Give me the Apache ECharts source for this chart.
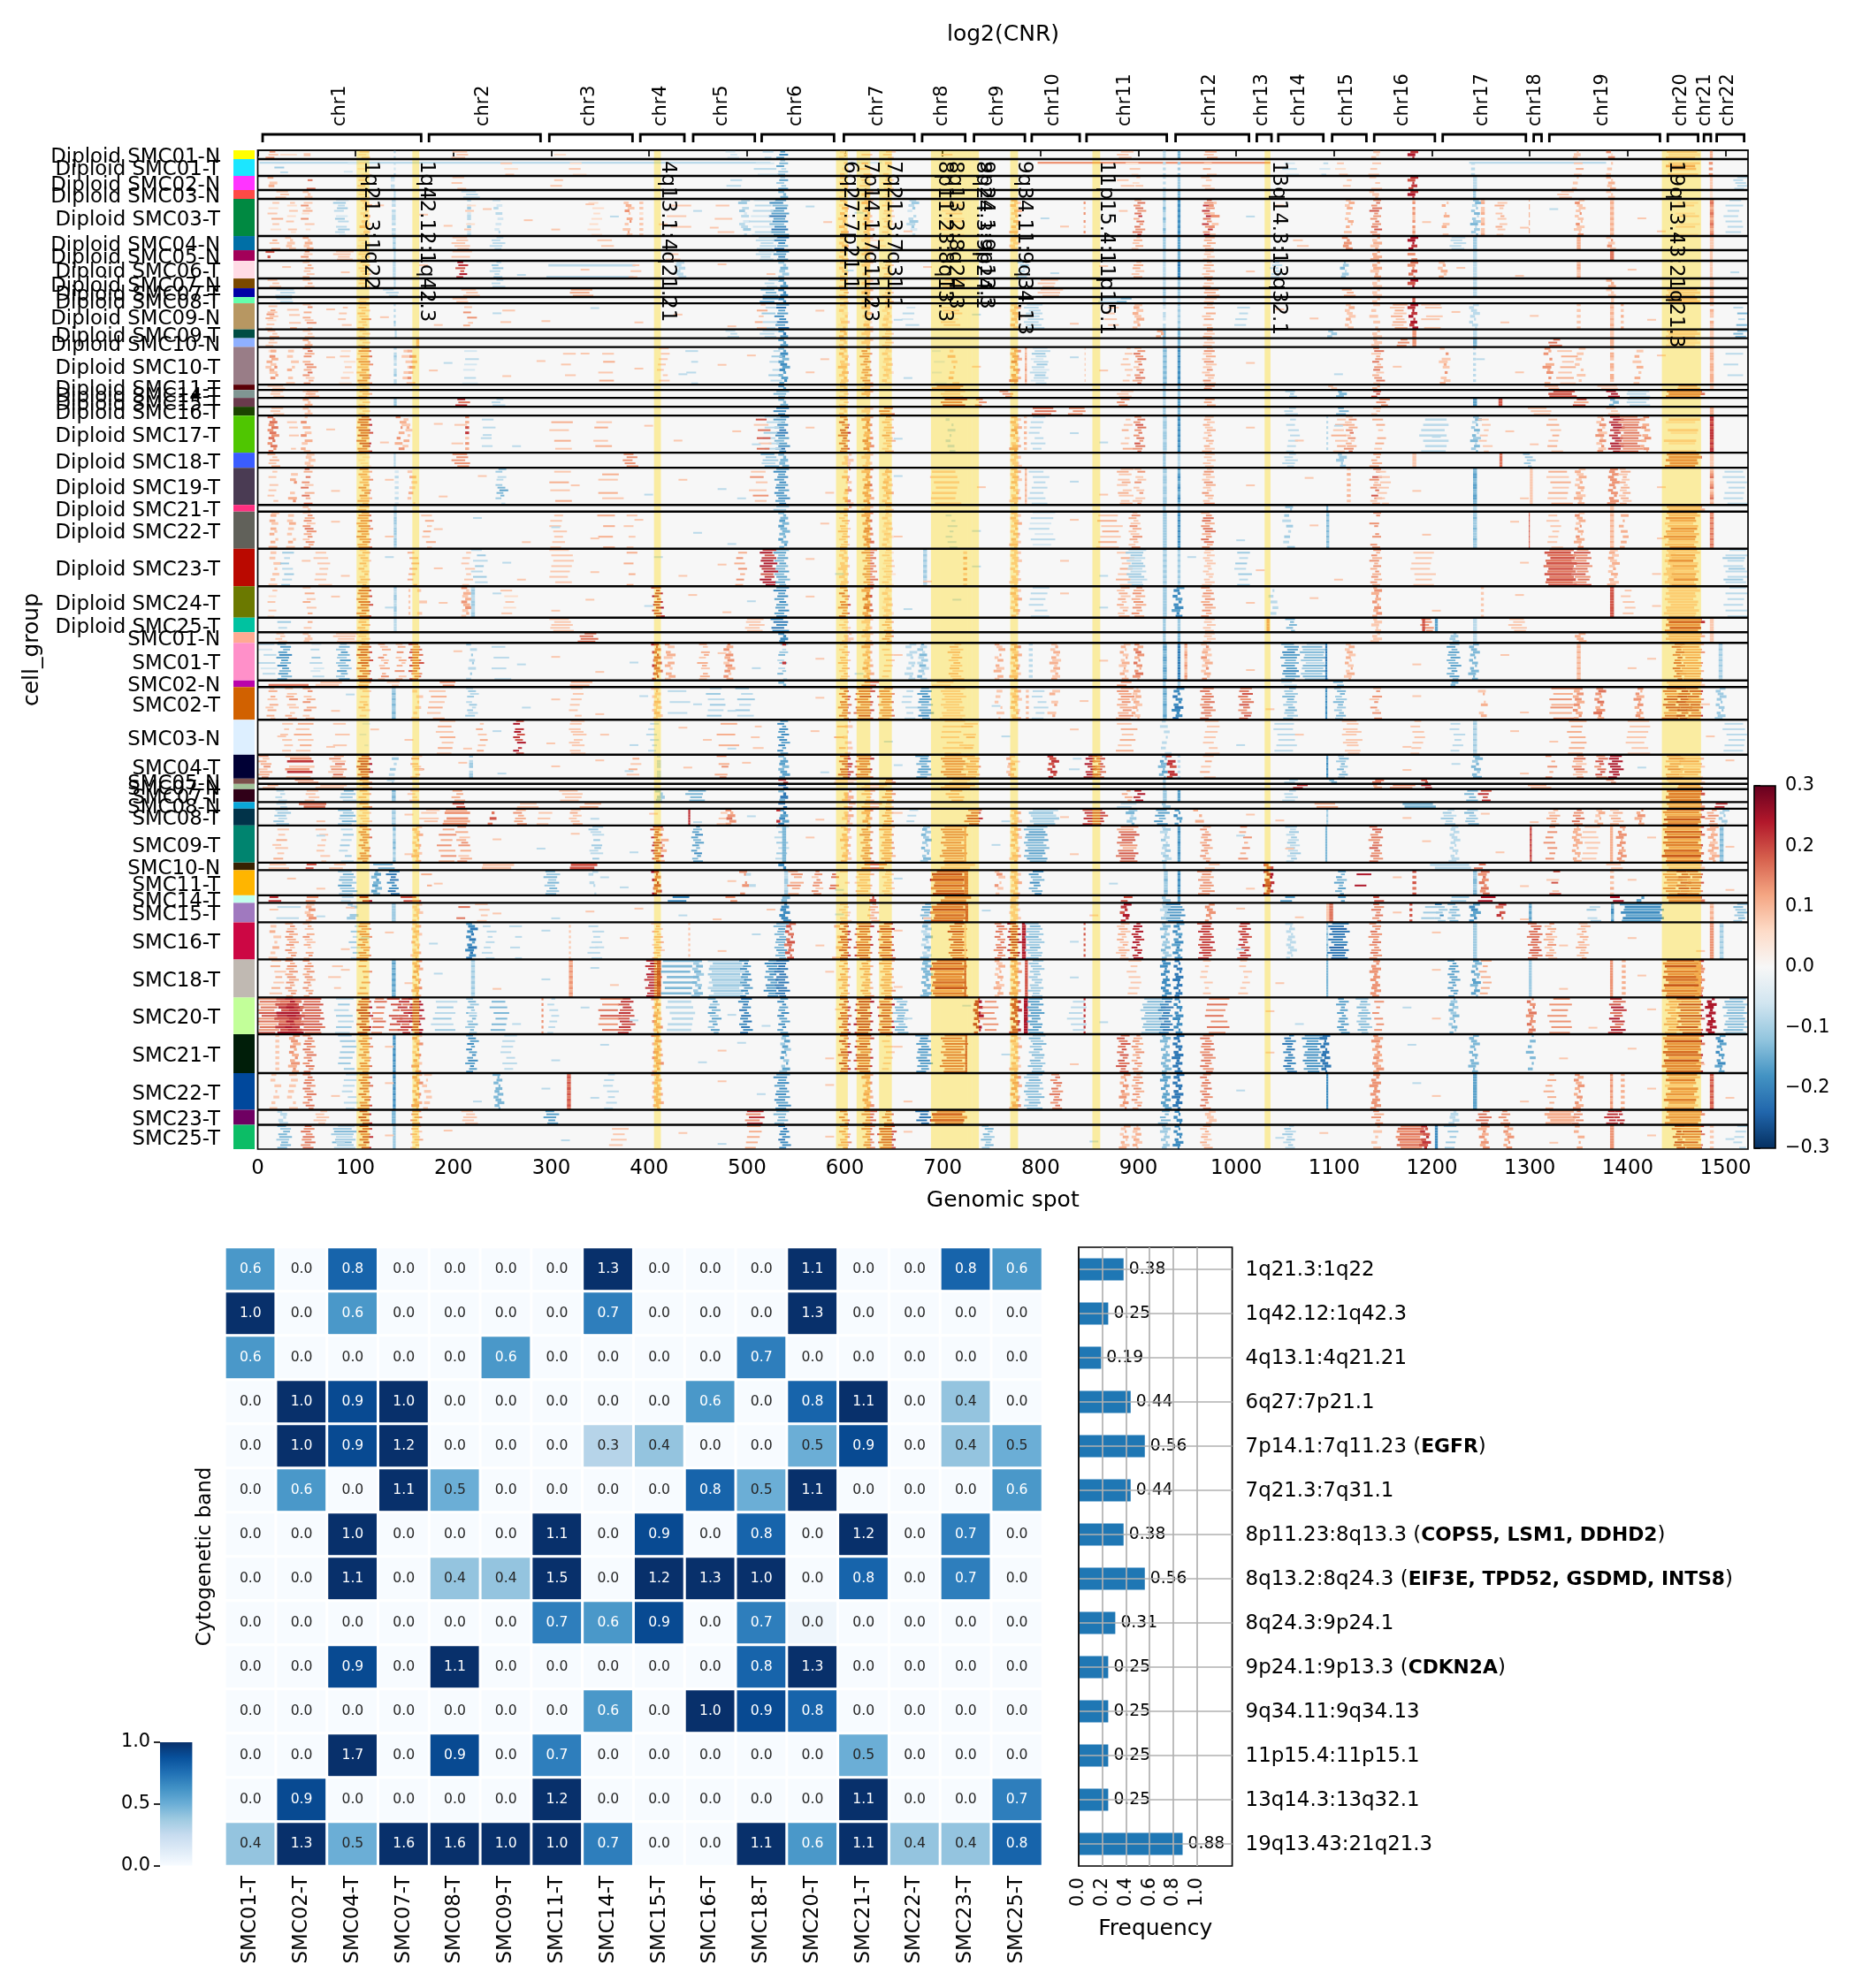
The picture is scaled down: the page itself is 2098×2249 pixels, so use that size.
<!DOCTYPE html>
<html><head><meta charset="utf-8">
<script src="https://cdn.jsdelivr.net/npm/echarts@6/dist/echarts.min.js"></script>
<style>html,body{margin:0;padding:0;background:#fff}#c{width:2098px;height:2249px}</style>
</head><body><div id="c"></div>
<script>
const groupNames=['Diploid SMC01-N','Diploid SMC01-T','Diploid SMC02-N','Diploid SMC03-N','Diploid SMC03-T','Diploid SMC04-N','Diploid SMC05-N','Diploid SMC06-T','Diploid SMC07-N','Diploid SMC07-T','Diploid SMC08-T','Diploid SMC09-N','Diploid SMC09-T','Diploid SMC10-N','Diploid SMC10-T','Diploid SMC11-T','Diploid SMC14-T','Diploid SMC15-T','Diploid SMC16-T','Diploid SMC17-T','Diploid SMC18-T','Diploid SMC19-T','Diploid SMC21-T','Diploid SMC22-T','Diploid SMC23-T','Diploid SMC24-T','Diploid SMC25-T','SMC01-N','SMC01-T','SMC02-N','SMC02-T','SMC03-N','SMC04-T','SMC05-N','SMC07-N','SMC07-T','SMC08-N','SMC08-T','SMC09-T','SMC10-N','SMC11-T','SMC14-T','SMC15-T','SMC16-T','SMC18-T','SMC20-T','SMC21-T','SMC22-T','SMC23-T','SMC25-T'];
const groupRows=[20,38,32,20,84,32,24,40,22,20,14,59,20,20,85,12,18,20,20,84,34,84,15,84,85,71,33,24,85,15,74,79,54,12,12,29,15,38,84,17,57,17,44,84,86,83,88,83,34,55];
const groupColors=['#FFFF00','#1CE6FF','#FF34FF','#FF4A46','#008941','#006FA6','#A30059','#FFDBE5','#7A4900','#0000A6','#63FFAC','#B79762','#004D43','#8FB0FF','#997D87','#5A0007','#809693','#6A3A4C','#1B4400','#4FC601','#3B5DFF','#4A3B53','#FF2F80','#61615A','#BA0900','#6B7900','#00C2A0','#FFAA92','#FF90C9','#B903AA','#D16100','#DDEFFF','#000035','#7B4F4B','#A1C299','#300018','#0AA6D8','#013349','#00846F','#372101','#FFB500','#C2FFED','#A079BF','#CC0744','#C0B9B2','#C2FF99','#001E09','#00489C','#6F0062','#0CBD66'];
const chromNames=['chr1','chr2','chr3','chr4','chr5','chr6','chr7','chr8','chr9','chr10','chr11','chr12','chr13','chr14','chr15','chr16','chr17','chr18','chr19','chr20','chr21','chr22'];
const chromStart=[5,175,298,391,445,515,599,679,732,791,847,938,1021,1043,1098,1141,1211,1304,1320,1441,1478,1491];
const chromEnd=[167,289,383,436,508,589,671,723,784,840,929,1013,1036,1089,1133,1203,1296,1312,1433,1472,1485,1519];
const bandNames=['1q21.3:1q22','1q42.12:1q42.3','4q13.1:4q21.21','6q27:7p21.1','7p14.1:7q11.23','7q21.3:7q31.1','8p11.23:8q13.3','8q13.2:8q24.3','8q24.3:9p24.1','9p24.1:9p13.3','9q34.11:9q34.13','11p15.4:11p15.1','13q14.3:13q32.1','19q13.43:21q21.3'];
const bandStart=[101,158,405,591,612,635,688,698,726,730,769,853,1029,1435];
const bandEnd=[114,165,412,603,626,648,698,726,730,737,777,861,1035,1475];
const xTicks=[0,100,200,300,400,500,600,700,800,900,1000,1100,1200,1300,1400,1500];
const g01=[[10,19,'53'],[46,52,'03'],[104,112,'32'],[139,141,'-30'],[532,540,'-67'],[515,525,'-30'],[596,602,'23'],[620,628,'03'],[641,650,'3'],[968,978,'43'],[925,928,'-3'],[940,943,'-5'],[1178,1183,'89'],[1139,1145,'32'],[1380,1385,'52'],[1345,1350,'3'],[1484,1487,'4'],[1440,1470,'32'],[20,40,'02'],[200,215,'3'],[300,315,'02'],[480,490,'-2'],[700,712,'03'],[880,892,'3']];
const g02=[[0,520,'-0300000'],[19,30,'-0304030'],[600,640,'-0200000'],[800,1035,'0500000'],[1240,1380,'-0300000'],[90,100,'-020'],[104,112,'02'],[139,141,'-0302'],[532,540,'-4563'],[510,530,'-0203'],[596,602,'0302'],[618,626,'0403'],[640,646,'0302'],[890,900,'0203'],[925,928,'-0303'],[940,943,'-0404'],[968,976,'0304'],[1050,1062,'-0203'],[1085,1093,'-0302'],[1104,1112,'0302'],[1138,1146,'0303'],[1240,1244,'-0303'],[1380,1385,'0303'],[1440,1470,'0354'],[1483,1487,'0505'],[250,262,'0302'],[320,332,'0203'],[1345,1352,'0304']];
const g03=[[12,18,'403'],[48,56,'060'],[136,140,'-320'],[532,540,'-464'],[104,112,'23'],[596,602,'32'],[618,626,'23'],[640,648,'3'],[895,902,'302'],[925,928,'-30'],[940,943,'-44'],[966,975,'330'],[1178,1183,'878'],[1138,1146,'30'],[1110,1118,'03'],[1242,1246,'-3'],[1380,1385,'43'],[1345,1350,'30'],[1484,1487,'3'],[1510,1520,'-3'],[300,312,'03'],[200,212,'30'],[480,495,'-03'],[880,892,'03']];
const g04=[[20,32,'3'],[48,54,'3'],[104,112,'2'],[139,141,'-3'],[534,540,'-55'],[596,602,'2'],[620,626,'3'],[640,648,'2'],[925,928,'-3'],[940,943,'-5'],[1178,1183,'89'],[1138,1144,'3'],[1242,1245,'-4'],[1380,1385,'3'],[210,225,'-3'],[1484,1487,'2'],[1330,1342,'3']];
const g05=[[12,22,'0302030403020'],[30,38,'0320302030'],[46,54,'0353420503020'],[80,90,'-2434302430343'],[107,113,'3242'],[137,141,'-3230323'],[214,218,'-3024023'],[243,248,'-202303020'],[376,381,'0343530453'],[390,394,'0303020303'],[494,500,'-3403423023'],[212,220,'0020300'],[340,350,'02'],[420,440,'0030'],[470,485,'00300'],[525,540,'-6757668675786'],[505,525,'-2030302030203'],[596,602,'3424342'],[620,626,'3434'],[640,648,'3232'],[666,672,'-3434203'],[700,720,'023'],[771,777,'4342'],[844,846,'0503050'],[897,904,'4656568'],[925,928,'-4335'],[940,943,'-7676'],[967,975,'6585859'],[974,980,'0350'],[1113,1118,'3434030'],[1139,1146,'5656755'],[1180,1183,'3505353'],[1211,1216,'0340'],[1242,1247,'-4534'],[1250,1254,'3403'],[1267,1274,'0343'],[1299,1300,'404'],[1348,1353,'3533'],[1382,1386,'3434'],[1484,1488,'5654'],[1450,1470,'0230'],[1500,1515,'-3030']];
const g06=[[12,20,'043'],[30,36,'3'],[48,54,'43'],[138,141,'-43'],[104,112,'2'],[530,540,'-8775'],[512,528,'-33'],[596,602,'34'],[620,626,'3'],[770,776,'3'],[620,640,'02'],[895,902,'34'],[925,928,'-4'],[940,943,'-6'],[968,976,'44'],[1178,1183,'9998'],[1140,1146,'43'],[1110,1116,'5'],[1242,1246,'-4'],[1380,1385,'35'],[1348,1352,'4'],[200,215,'3'],[240,250,'-3'],[350,362,'03'],[1060,1070,'03'],[1484,1488,'3'],[1220,1232,'-3']];
const g07=[[8,14,'70'],[46,54,'53'],[104,112,'3'],[139,141,'-3'],[530,540,'-76'],[512,525,'-3'],[596,602,'3'],[620,626,'3'],[925,928,'-3'],[940,943,'-5'],[968,975,'3'],[1178,1183,'05'],[1140,1146,'4'],[1242,1246,'-3'],[1382,1386,'6'],[1484,1487,'3'],[200,220,'30'],[80,95,'3'],[420,432,'03']];
const g08=[[48,55,'3443'],[205,212,'9877'],[240,248,'-3443'],[293,385,'-0300'],[105,112,'3'],[380,390,'03'],[428,434,'-3'],[138,141,'-33'],[534,540,'-4454'],[596,602,'33'],[620,626,'33'],[640,648,'33'],[895,903,'3443'],[925,928,'-33'],[940,943,'-7877'],[967,975,'3434'],[1108,1113,'-4453'],[1140,1146,'4443'],[1178,1183,'6557'],[1208,1214,'3434'],[1242,1246,'-33'],[1348,1352,'3443'],[1484,1487,'33'],[778,786,'-4433'],[1036,1045,'-33']];
const g09=[[12,22,'3'],[48,56,'34'],[104,112,'3'],[139,141,'-3'],[534,540,'-6'],[520,530,'-3'],[596,604,'4'],[620,626,'3'],[925,928,'-3'],[940,943,'-4'],[967,975,'43'],[1178,1183,'97'],[1140,1146,'3'],[1242,1246,'-3'],[1380,1386,'4'],[1484,1488,'3'],[240,250,'-3'],[800,815,'3'],[700,720,'3']];
const g10=[[20,38,'-3'],[130,142,'-3'],[534,540,'-7'],[516,530,'-5'],[596,604,'4'],[620,626,'4'],[640,648,'3'],[925,928,'-4'],[940,943,'-4'],[968,980,'4'],[1110,1120,'4'],[1140,1146,'3'],[1242,1246,'-3'],[1380,1386,'3'],[1440,1470,'3'],[1484,1488,'4'],[320,340,'4'],[210,225,'3'],[800,820,'3']];
const g11=[[20,36,'-3'],[104,112,'3'],[534,540,'-7'],[515,530,'-6'],[596,604,'3'],[620,626,'3'],[640,648,'4'],[860,880,'-3'],[925,928,'-3'],[940,943,'-3'],[968,978,'3'],[880,890,'-5'],[1180,1183,'7'],[1140,1146,'3'],[1383,1386,'3'],[1440,1470,'4'],[1484,1488,'4'],[200,215,'3']];
const g12=[[10,18,'0304353420303'],[30,40,'0030300304'],[48,56,'3504043503'],[84,92,'0303'],[104,112,'3434353'],[139,141,'-3030304'],[212,220,'0305050340'],[250,262,'0030'],[530,540,'-6866778'],[516,530,'-0304003'],[510,518,'3040'],[596,602,'3231'],[620,626,'3424'],[640,646,'23'],[700,716,'0233'],[660,672,'-0203'],[771,777,'3434'],[785,800,'-3'],[868,878,'03'],[896,902,'3434'],[925,928,'-3203'],[940,943,'-4343'],[967,976,'3404340'],[1000,1012,'-0303'],[1113,1118,'3433'],[1139,1145,'3030'],[1160,1172,'43'],[1178,1183,'9898'],[1190,1210,'3300'],[1240,1245,'-3'],[1382,1386,'3434'],[1348,1352,'3030'],[1484,1488,'3043'],[1510,1520,'-0305'],[1393,1396,'4030']];
const g13=[[12,20,'43'],[48,56,'3'],[105,112,'33'],[140,142,'-3'],[534,540,'-68'],[515,530,'-3'],[596,602,'44'],[620,626,'3'],[640,648,'3'],[925,928,'-5'],[940,943,'-5'],[920,926,'4'],[967,976,'43'],[1095,1100,'-4'],[1140,1146,'3'],[1180,1184,'5'],[1242,1246,'-3'],[1382,1386,'3'],[1440,1470,'3'],[1484,1488,'3'],[480,490,'-3'],[1510,1520,'-5']];
const g14=[[10,18,'3'],[48,54,'43'],[105,112,'3'],[162,165,'4'],[534,540,'-6'],[596,602,'3'],[620,626,'3'],[640,648,'3'],[925,928,'-4'],[940,943,'-5'],[967,976,'3'],[1141,1146,'3'],[1165,1175,'5'],[1180,1184,'5'],[1242,1246,'-5'],[1320,1330,'6'],[1382,1386,'4'],[1440,1470,'2'],[1484,1488,'3']];
const g15=[[10,16,'0203040303030'],[14,20,'0405403540450'],[32,38,'0303030340'],[48,56,'5645045546534'],[86,96,'0203'],[103,114,'5636465464666'],[139,142,'-3034323033403'],[150,156,'0303'],[155,160,'0405'],[212,225,'-0200302'],[312,322,'0030'],[350,365,'0030040'],[410,418,'3030'],[440,450,'-0300'],[534,540,'-5676567676'],[524,534,'-0304030'],[596,602,'4343433'],[618,625,'5656565'],[640,646,'3232'],[690,700,'-0200'],[708,713,'0304'],[771,777,'4545464'],[784,786,'5344'],[792,806,'-2343'],[845,846,'3030'],[885,892,'3030'],[897,904,'3565646'],[925,929,'-4545'],[940,943,'-6767'],[967,976,'3534353'],[1141,1148,'5634563'],[1210,1216,'3050334'],[1242,1245,'-3030'],[1316,1322,'5450504'],[1330,1345,'0304'],[1382,1386,'3044'],[1408,1414,'0304'],[1348,1354,'3030'],[1484,1488,'4344'],[1500,1515,'-0030']];
const g16=[[12,28,'3'],[105,112,'3'],[534,540,'-6'],[596,602,'3'],[690,720,'5'],[620,626,'3'],[1095,1100,'3'],[925,928,'-4'],[940,943,'-5'],[968,976,'5'],[1140,1146,'4'],[1316,1330,'4'],[1370,1390,'3'],[1450,1472,'5'],[1484,1488,'3']];
const g17=[[14,24,'3'],[48,56,'3'],[105,114,'4'],[530,540,'-5'],[596,604,'3'],[620,626,'4'],[700,720,'3'],[760,770,'5'],[880,892,'3'],[925,928,'-4'],[940,943,'-4'],[1053,1060,'-4'],[1105,1110,'-5'],[1139,1146,'7'],[1320,1345,'7'],[1380,1390,'9'],[1400,1420,'-3'],[1440,1475,'6'],[50,60,'4']];
const g18=[[48,54,'43'],[105,112,'3'],[139,142,'-4'],[205,214,'86'],[240,250,'-3'],[534,540,'-5'],[596,604,'3'],[700,722,'86'],[735,742,'5'],[880,888,'5'],[925,928,'-3'],[940,943,'-6'],[968,976,'4'],[1145,1155,'5'],[1242,1246,'-6'],[1268,1272,'7'],[1345,1358,'74'],[1383,1388,'-5'],[1400,1420,'-3']];
const g19=[[14,24,'3'],[48,54,'3'],[105,112,'3'],[530,540,'-7'],[596,602,'3'],[620,626,'3'],[636,648,'6'],[792,812,'6'],[830,846,'5'],[925,928,'-4'],[940,943,'-5'],[1105,1112,'-5'],[1050,1060,'-3'],[1139,1146,'3'],[1300,1320,'3'],[1380,1390,'3'],[1484,1488,'4']];
const g20=[[12,18,'6565656566565'],[46,52,'3050403504304'],[30,38,'0030300300'],[103,114,'7878687867886'],[150,156,'0303430304030'],[143,148,'5040'],[212,216,'5040708030'],[200,212,'0003000'],[230,242,'-0300300'],[300,320,'0040030'],[345,360,'0030400'],[530,540,'-7657688765678'],[518,532,'-3030304030'],[510,522,'0703060'],[596,603,'6786888786787'],[620,626,'4565564'],[640,648,'5343434'],[705,710,'-0303'],[771,777,'4343455'],[783,786,'3040'],[790,802,'-3030'],[897,904,'5657656'],[884,892,'0303040'],[925,929,'-4344'],[940,943,'-6767'],[968,975,'3434'],[1053,1062,'-0303'],[1092,1094,'-3030'],[1113,1120,'3534456'],[1100,1112,'0304'],[1142,1150,'0404030'],[1190,1215,'-0303'],[1242,1247,'-4535'],[1250,1258,'0303'],[1320,1330,'0304'],[1370,1376,'3535'],[1383,1393,'8989988'],[1393,1412,'5656656'],[1415,1420,'5404'],[1484,1488,'8878788'],[1440,1470,'0320']];
const g21=[[12,20,'43'],[50,56,'3'],[105,112,'2'],[139,141,'-3'],[534,540,'-5'],[516,530,'-5443'],[600,606,'3'],[620,626,'3'],[771,777,'3'],[925,928,'-4'],[940,943,'-3'],[968,976,'3'],[1050,1060,'-3'],[1105,1110,'-4'],[1139,1146,'44'],[1269,1272,'6'],[1295,1302,'-4'],[1440,1472,'66'],[1484,1488,'3'],[200,215,'5'],[375,385,'5'],[1180,1184,'3']];
const g22=[[12,20,'030300303'],[46,54,'6406053604'],[34,40,'0030450'],[105,114,'6454545656'],[140,144,'-0203'],[155,160,'030403'],[245,252,'-5403304565'],[300,320,'0300040'],[350,370,'0040300'],[505,520,'0305030'],[530,540,'-6767676767'],[600,605,'5304'],[620,626,'5455456'],[640,646,'3434'],[690,715,'0303'],[771,777,'3434'],[784,786,'4343'],[790,805,'-0303'],[880,892,'3430'],[897,904,'3503'],[925,929,'-4434'],[940,943,'-6567'],[967,975,'3543'],[1139,1146,'5607534'],[1113,1117,'3040'],[1145,1155,'0303'],[1242,1246,'-5566'],[1300,1303,'3'],[1320,1340,'0403'],[1348,1354,'3434'],[1382,1388,'5555'],[1393,1400,'3434'],[1484,1488,'3456'],[1500,1520,'-0303']];
const g23=[[48,54,'3'],[104,112,'4'],[139,142,'-3'],[530,540,'-4'],[600,606,'4'],[620,626,'3'],[640,648,'3'],[925,928,'-4'],[940,943,'-4'],[1053,1058,'-4'],[1092,1094,'-5'],[1242,1246,'-3'],[1440,1475,'4'],[1382,1386,'3']];
const g24=[[14,20,'3404304340'],[32,38,'0303403'],[48,56,'3545356545'],[103,114,'5656565656'],[139,142,'-4344'],[170,178,'0304'],[300,312,'0303'],[350,365,'0400'],[375,385,'0300'],[534,540,'-5556565'],[620,626,'5566'],[596,603,'3434'],[640,646,'3232'],[705,712,'-0303'],[771,777,'4343'],[790,812,'-2030'],[860,880,'0304'],[892,900,'3543'],[925,929,'-4444'],[940,943,'-6767'],[966,975,'4566'],[1050,1056,'-0403'],[1092,1095,'-4545'],[1139,1146,'5500'],[1242,1246,'-4454'],[1299,1300,'6767'],[1320,1330,'0303'],[1348,1353,'3544'],[1382,1386,'3434'],[1393,1398,'0404'],[1440,1470,'5465346'],[1484,1488,'6565']];
const g25=[[14,20,'0303'],[25,34,'-0403'],[60,72,'0303'],[105,112,'3434'],[155,162,'0404'],[210,218,'0303'],[220,232,'-3040'],[300,320,'3030'],[375,385,'0400'],[490,498,'0405'],[515,528,'8978999'],[530,540,'-5656565'],[620,630,'5656'],[596,602,'3333'],[640,648,'3232'],[680,684,'-4343'],[721,725,'0305'],[771,777,'3333'],[880,892,'0304'],[890,905,'-3443'],[925,929,'-4343'],[940,943,'-4343'],[968,975,'3'],[1000,1012,'-0403'],[1139,1146,'5454'],[1180,1200,'0303'],[1317,1345,'6767'],[1345,1360,'5756'],[1382,1388,'3434'],[1440,1470,'4354635'],[1500,1520,'-3034'],[1440,1445,'3']];
const g26=[[12,20,'0302030'],[48,56,'3040340'],[103,114,'6767677'],[139,142,'-4334'],[154,156,'0303'],[165,170,'0300'],[210,216,'5343454'],[218,222,'-3443'],[250,262,'0302'],[405,412,'7889'],[530,540,'-6767676'],[596,603,'5676'],[620,626,'6567'],[640,646,'3232'],[771,777,'4343'],[790,806,'-3030'],[880,888,'4343'],[895,904,'5454454'],[925,929,'-4444'],[937,943,'-6777'],[966,975,'5454'],[1035,1040,'-0303'],[1141,1146,'4545'],[1250,1253,'3030'],[1382,1386,'7777'],[1395,1405,'0303'],[1440,1470,'3'],[1500,1520,'-3030']];
const g27=[[18,30,'-0403'],[48,56,'0403'],[104,112,'4'],[139,142,'-3'],[300,320,'3'],[500,515,'3'],[526,540,'-78'],[596,604,'3'],[620,626,'3'],[640,648,'4'],[925,928,'-4'],[940,943,'-4'],[968,976,'3'],[1031,1034,'5'],[1053,1060,'-5'],[1141,1146,'3'],[1190,1200,'5'],[1203,1206,'-6'],[1242,1246,'-3'],[1280,1295,'3'],[1440,1475,'68'],[1190,1193,'7'],[1484,1488,'3']];
const g28=[[20,28,'3'],[48,54,'3'],[104,112,'3'],[80,100,'3'],[534,540,'-7'],[600,606,'3'],[620,626,'3'],[640,648,'5'],[925,928,'-4'],[940,943,'-5'],[968,976,'3'],[1140,1146,'3'],[1219,1225,'-4'],[1242,1246,'-3'],[1348,1354,'4'],[1440,1475,'4'],[1484,1488,'3'],[330,345,'6']];
const g29=[[22,32,'-5656766576'],[56,66,'-2030040302'],[82,92,'-4546546'],[2,18,'-3020300'],[103,114,'7687867876'],[125,132,'4340453'],[143,150,'3405034'],[156,166,'7567676776'],[215,220,'-4030403'],[240,255,'-0300'],[405,410,'8767'],[418,424,'4304'],[452,460,'4304'],[478,484,'5453'],[533,540,'-4034503'],[536,540,'8000000'],[596,603,'3434'],[620,626,'4534'],[640,648,'3030'],[676,682,'-5343'],[664,670,'-3303'],[708,718,'3434'],[755,760,'4340'],[771,777,'4543'],[788,792,'-3030'],[812,818,'3434'],[883,888,'3434'],[897,902,'5456'],[925,929,'-5665'],[940,943,'-7878'],[947,950,'5434'],[966,972,'3534'],[1048,1062,'-5667665'],[1068,1090,'-3545454'],[1091,1093,'-7878788'],[1113,1118,'3434'],[1217,1226,'-5656565'],[1240,1245,'-5555'],[1348,1352,'3434'],[1448,1456,'6767'],[1456,1475,'4545'],[1493,1497,'-4343']];
const g30=[[10,50,'06'],[60,85,'3'],[104,114,'5'],[135,145,'3'],[185,200,'5'],[320,340,'4'],[534,540,'-5'],[620,632,'6'],[690,710,'3'],[925,928,'-4'],[940,943,'-4'],[1048,1060,'-3'],[1100,1110,'-5'],[1220,1225,'-5'],[1440,1475,'3'],[880,890,'5']];
const g31=[[10,18,'3404304'],[30,38,'3034503'],[48,56,'4503450'],[105,113,'4303034'],[137,141,'-4454545'],[160,165,'0303'],[215,222,'-3434034'],[175,190,'0304'],[320,330,'3030'],[405,410,'3433'],[420,440,'-0300'],[460,475,'-3040'],[490,505,'-4030'],[596,604,'6767676'],[612,627,'6768676'],[636,648,'5656565'],[676,687,'-5667665'],[660,670,'-0303'],[700,720,'3'],[755,760,'0303'],[771,777,'3434'],[785,788,'0304'],[793,805,'-0303'],[810,816,'0340'],[880,892,'4545454'],[895,900,'3434'],[925,929,'-5565'],[937,943,'-7778'],[965,975,'5656'],[1004,1014,'5676'],[1050,1060,'-5445'],[1091,1093,'-6767'],[1102,1110,'-4554'],[1139,1146,'3505'],[1250,1255,'0340'],[1322,1345,'5040504'],[1346,1352,'5454'],[1368,1374,'5654'],[1409,1414,'5454'],[1438,1452,'8757868'],[1452,1462,'8979898'],[1462,1475,'7868578'],[1492,1497,'-4444']];
const g32=[[263,270,'7908978'],[40,55,'0403'],[25,33,'0303'],[78,92,'0300'],[105,112,'-0200'],[185,200,'3040'],[225,232,'0304'],[320,332,'3303'],[400,408,'-0303'],[470,490,'0400'],[505,515,'0030'],[533,540,'-6767'],[600,605,'3030'],[590,600,'0040'],[700,720,'3030'],[720,732,'0340'],[880,895,'0304'],[925,930,'-3030'],[968,980,'3030'],[1040,1060,'-0303'],[1110,1125,'3303'],[1242,1246,'-3434'],[1340,1355,'4040'],[1400,1420,'3030'],[1500,1520,'-0303'],[1180,1190,'3030'],[1220,1230,'-0303']];
const g33=[[2,12,'5344'],[30,55,'3580'],[75,88,'4536'],[103,114,'7889898'],[158,166,'3504'],[136,142,'-0403'],[216,220,'-4034'],[380,390,'0403'],[470,480,'5004'],[408,412,'-3033'],[534,540,'-5566'],[596,606,'7878'],[612,626,'6867'],[675,686,'-6665'],[700,722,'5666'],[724,736,'5454'],[767,772,'3434'],[809,815,'8787'],[830,842,'-0300'],[847,856,'8989'],[856,864,'6767'],[923,928,'-5565'],[930,936,'7088'],[940,943,'-3030'],[965,975,'3040'],[1105,1112,'-4545'],[1092,1094,'-6767'],[1242,1248,'-5545'],[1318,1325,'5040'],[1345,1355,'5643'],[1368,1376,'5677'],[1382,1392,'9999'],[1440,1455,'5645'],[1455,1475,'3454']];
const g34=[[40,60,'5'],[105,114,'5'],[135,140,'-3'],[534,542,'8'],[590,610,'3'],[640,650,'6'],[710,725,'3'],[925,928,'-4'],[1050,1062,'-4'],[1097,1102,'-5'],[1142,1148,'6'],[1190,1196,'7'],[1380,1388,'5'],[1440,1475,'3']];
const g35=[[6,20,'4'],[60,90,'3'],[105,114,'4'],[534,542,'-9'],[620,640,'3'],[700,730,'4'],[925,928,'-3'],[1060,1070,'8'],[1160,1180,'5'],[1190,1200,'8'],[1141,1146,'4'],[1300,1320,'4'],[1450,1475,'5']];
const g36=[[20,28,'-3'],[50,60,'3'],[85,98,'-5443'],[105,113,'4443'],[137,141,'-5454'],[155,163,'33'],[200,210,'4'],[310,330,'3'],[408,414,'-44'],[440,455,'-5'],[534,540,'-5885'],[600,606,'4'],[620,628,'4'],[640,650,'5'],[705,720,'4'],[885,892,'4'],[897,904,'89'],[925,929,'-4'],[940,943,'-6'],[1050,1060,'-3'],[1250,1258,'78'],[1235,1245,'-5'],[1440,1475,'7']];
const g37=[[20,30,'-3'],[45,70,'6'],[105,114,'5'],[200,212,'7'],[265,285,'3'],[330,350,'4'],[534,541,'-8'],[600,610,'4'],[620,635,'4'],[640,648,'3'],[880,895,'-3'],[925,930,'-4'],[1080,1100,'4'],[1170,1200,'-5'],[1440,1475,'5'],[1490,1500,'8']];
const g38=[[18,30,'-344'],[84,98,'-5453'],[105,113,'3'],[137,141,'-34'],[168,185,'330'],[190,215,'4505'],[236,242,'0607'],[263,272,'4544'],[287,300,'0303'],[320,328,'3433'],[440,442,'8888'],[470,480,'0303'],[480,486,'5456'],[534,540,'-6767'],[530,534,'8000'],[600,606,'4343'],[620,626,'5454'],[640,648,'5454'],[664,672,'-3030'],[725,738,'6778'],[771,777,'3433'],[790,815,'-3434'],[845,865,'7878'],[890,896,'-4534'],[918,928,'-6665'],[938,943,'-6676'],[958,964,'4040'],[1092,1094,'-4343'],[1212,1222,'-3434'],[1235,1245,'-4544'],[1320,1328,'4344'],[1345,1353,'6556'],[1368,1373,'3434'],[1383,1392,'3434'],[1410,1415,'5454'],[1438,1475,'8657968'],[1482,1490,'5454'],[1495,1500,'-4344']];
const g39=[[18,28,'0303040'],[62,70,'0303'],[85,95,'-0304'],[105,113,'6666666'],[138,141,'-4534345'],[160,165,'3434'],[185,200,'0405'],[205,215,'5040345'],[340,350,'-4433040'],[410,416,'0404'],[404,411,'8787878'],[445,452,'-6567656'],[530,540,'-3040'],[536,540,'-5'],[598,604,'3434'],[618,626,'5656565'],[638,648,'4545455'],[680,685,'-4545454'],[700,722,'5666656'],[722,724,'5555555'],[771,777,'3434'],[785,805,'-5566565'],[880,897,'5467676'],[925,930,'-3434'],[940,943,'-6676'],[965,972,'4545'],[1005,1012,'5040'],[1053,1062,'-4343'],[1091,1093,'-5555'],[1138,1147,'6765656'],[1220,1225,'-3'],[1300,1302,'7878'],[1317,1326,'5050'],[1345,1350,'4444'],[1355,1370,'3030'],[1382,1385,'4444'],[1391,1396,'5455'],[1438,1475,'7586957'],[1484,1490,'4434'],[1494,1498,'-4545']];
const g40=[[10,30,'3'],[50,58,'7'],[75,90,'3'],[120,140,'-5'],[230,260,'3'],[320,345,'7'],[534,540,'-7'],[620,640,'6'],[700,730,'3'],[925,928,'-3'],[970,980,'3'],[1030,1036,'7'],[1380,1395,'3'],[1200,1240,'-3'],[1245,1255,'6'],[1440,1475,'3']];
const g41=[[84,98,'-454546'],[118,124,'-5656'],[134,142,'-788877'],[170,178,'0400'],[295,306,'-5454'],[340,345,'-3300'],[405,410,'9868'],[495,500,'5500'],[500,505,'-0300'],[538,542,'-4334'],[544,555,'4540'],[568,575,'5535'],[585,592,'0660'],[596,604,'3000'],[640,648,'3333'],[612,626,'3434'],[690,722,'8979686'],[722,726,'7777'],[755,760,'3530'],[771,777,'4343'],[790,800,'-7655'],[926,930,'-4445'],[940,943,'-6767'],[963,975,'5545'],[1030,1036,'8998'],[1103,1110,'-6565'],[1123,1135,'0900'],[1180,1184,'7060'],[1250,1256,'6565'],[1242,1246,'-5445'],[1320,1330,'7003'],[1382,1386,'3040'],[1438,1452,'5566'],[1452,1462,'8786'],[1462,1475,'7675']];
const g42=[[10,22,'8'],[50,60,'5'],[86,96,'-3'],[105,114,'9'],[148,165,'7'],[420,440,'-7'],[480,490,'5'],[536,542,'-5'],[625,630,'7'],[700,726,'6'],[770,776,'3'],[883,890,'7'],[925,930,'-4'],[940,943,'-6'],[1047,1060,'-6'],[1103,1110,'-6'],[1141,1148,'7'],[1250,1262,'9'],[1383,1393,'9'],[1410,1416,'-6'],[1440,1475,'6'],[1220,1236,'-4']];
const g43=[[50,56,'345'],[18,40,'-0300'],[94,100,'-4400'],[137,141,'-44'],[160,165,'33'],[205,214,'0600'],[225,235,'3030'],[535,541,'-77'],[596,604,'33'],[625,632,'44'],[679,688,'-5665'],[690,723,'8796'],[723,726,'8888'],[770,776,'33'],[883,889,'9887'],[925,930,'-34'],[930,945,'-7676'],[970,975,'55'],[1092,1095,'3'],[1095,1099,'66'],[1141,1148,'65'],[1177,1180,'70'],[1190,1205,'-0404'],[1205,1212,'-7444'],[1218,1226,'-5454'],[1240,1246,'-6776'],[1268,1273,'8607'],[1299,1302,'-56'],[1360,1370,'-0340'],[1383,1386,'-5577'],[1395,1435,'-6767'],[1484,1488,'34'],[1510,1520,'-45']];
const g44=[[14,20,'030403'],[30,38,'4535454'],[48,55,'3430453'],[95,103,'-0304'],[104,113,'5655656'],[159,164,'3434'],[215,221,'-6787878'],[232,240,'-0303'],[260,270,'-0300'],[318,320,'0303'],[340,350,'-0303'],[405,412,'3434'],[440,442,'3030'],[530,540,'-5565'],[541,546,'6767'],[590,596,'0400'],[596,604,'7878788'],[612,626,'6877687'],[636,648,'8697586'],[680,686,'-3543'],[708,722,'8769768'],[722,724,'3333'],[755,762,'5656'],[768,777,'9888989'],[781,785,'9898989'],[786,800,'-4544'],[844,846,'7060'],[880,888,'4343'],[895,902,'8989'],[925,930,'-4554'],[937,943,'-6767'],[963,975,'7878'],[1004,1012,'8787'],[1053,1058,'-3'],[1092,1094,'-5443'],[1096,1112,'-7898888'],[1138,1146,'5556'],[1242,1246,'-4444'],[1300,1310,'6676'],[1317,1325,'5343'],[1350,1358,'3434'],[1484,1488,'5555'],[1494,1498,'-3434']];
const g45=[[30,38,'5454'],[48,55,'5454'],[15,25,'3040'],[75,85,'0030'],[105,113,'5050'],[137,141,'-5656'],[160,165,'5454'],[218,222,'-4343'],[318,322,'5454'],[398,410,'8988'],[408,412,'9988'],[414,445,'-5050'],[446,452,'-5454'],[462,495,'-3434'],[495,502,'-6767'],[520,530,'-6767'],[530,540,'-8888'],[596,603,'4545'],[618,626,'4545'],[638,648,'4545'],[680,686,'-5555'],[690,722,'7869576'],[722,724,'8888'],[755,760,'4343'],[771,777,'5454'],[784,787,'7777'],[790,800,'-4444'],[890,900,'3030'],[925,930,'-7777'],[938,943,'-8888'],[965,972,'3030'],[1005,1012,'3030'],[1092,1094,'-5555'],[1139,1145,'5555'],[1218,1225,'-6666'],[1242,1247,'-6556'],[1250,1258,'4040'],[1299,1302,'-4444'],[1382,1385,'5555'],[1394,1398,'4040'],[1438,1475,'8695768'],[1470,1475,'5']];
const g46=[[0,20,'5646577'],[20,45,'7678798'],[30,38,'8989899'],[45,65,'7676767'],[80,95,'-3040'],[103,114,'9789998'],[118,130,'5606050'],[135,145,'7070607'],[145,156,'7868787'],[156,167,'8998998'],[180,200,'-0304'],[215,222,'-4545'],[240,255,'-0505'],[290,292,'5050'],[298,305,'-3030'],[370,382,'7878787'],[350,370,'5050607'],[405,410,'5454'],[420,445,'-0303'],[462,470,'-5646'],[494,502,'-8787'],[533,540,'-6776'],[596,604,'7878'],[612,626,'8989'],[636,648,'8697'],[652,662,'-5455'],[733,738,'8998'],[740,755,'0505'],[771,777,'8888'],[783,787,'9999'],[788,800,'-6666'],[830,845,'-0303'],[844,846,'8080'],[905,925,'-4545'],[923,933,'-7878'],[938,943,'-7777'],[970,990,'5060'],[1105,1112,'-6666'],[1125,1135,'-4545'],[1141,1148,'0505'],[1219,1224,'-5454'],[1299,1304,'5656'],[1320,1340,'5050'],[1383,1395,'8679'],[1440,1452,'4545'],[1452,1475,'8697'],[1482,1488,'9999'],[1500,1520,'-4545']];
const g47=[[18,22,'3030'],[34,40,'5454'],[48,56,'5656'],[84,98,'-4040'],[105,114,'5566'],[138,141,'-6767'],[160,165,'3535'],[215,222,'-6767'],[250,262,'-3030'],[405,411,'5454'],[536,541,'-6464'],[596,604,'8697'],[612,626,'8768'],[640,648,'3030'],[675,686,'-6766'],[700,722,'6767'],[723,725,'8888'],[771,777,'4343'],[790,802,'-4545'],[880,888,'6767'],[895,902,'5454'],[925,930,'-5555'],[937,943,'-8888'],[965,975,'5656'],[1050,1058,'-7878'],[1070,1085,'-6767'],[1088,1093,'-8888'],[1141,1147,'5454'],[1240,1245,'-5555'],[1299,1304,'-5050'],[1438,1475,'8596768'],[1492,1497,'-6676']];
const g48=[[15,20,'3030'],[48,56,'5656'],[32,38,'3030'],[88,100,'-3030'],[105,114,'6767'],[138,141,'-6767'],[160,165,'4545'],[170,175,'3030'],[243,248,'-5555'],[316,320,'6767'],[355,365,'-3030'],[405,411,'4444'],[530,541,'-6767'],[620,626,'4545'],[785,800,'-5454'],[771,777,'4545'],[812,820,'5656'],[883,888,'5454'],[895,902,'4545'],[925,930,'-6666'],[937,943,'-8888'],[965,972,'5656'],[1092,1094,'-7777'],[1139,1145,'5555'],[1242,1246,'-6666'],[1317,1325,'4040'],[1347,1352,'5454'],[1382,1385,'5454'],[1393,1397,'4040'],[1440,1470,'6475365'],[1484,1488,'7676']];
const g49=[[22,28,'-3'],[60,70,'3'],[105,113,'88'],[137,141,'-5'],[158,165,'55'],[210,222,'3'],[295,305,'-66'],[500,515,'85'],[530,540,'-5'],[596,603,'6'],[620,630,'6'],[640,648,'6'],[675,686,'-8'],[690,722,'68'],[923,930,'-5'],[938,943,'-7'],[970,976,'3'],[1141,1148,'54'],[1248,1258,'66'],[1270,1278,'5'],[1317,1345,'4'],[1345,1352,'55'],[1378,1388,'8'],[1388,1395,'8'],[1440,1475,'65'],[1219,1225,'-3']];
const g50=[[22,32,'-5455'],[46,56,'6565'],[78,98,'-3454'],[105,114,'8796'],[138,141,'-4444'],[158,165,'3434'],[360,375,'0303'],[500,512,'4040'],[534,541,'-7877'],[596,604,'5454'],[620,628,'5656'],[636,650,'7877'],[742,750,'-4545'],[883,888,'4343'],[895,900,'3434'],[925,930,'-4444'],[938,943,'-7777'],[965,972,'4343'],[1050,1058,'-3434'],[1140,1146,'3030'],[1165,1190,'5656'],[1190,1196,'8787'],[1203,1206,'-7777'],[1215,1225,'-4040'],[1250,1256,'5454'],[1275,1280,'5454'],[1347,1352,'4040'],[1382,1386,'5555'],[1448,1456,'8697'],[1456,1475,'7586'],[1484,1488,'3030'],[1510,1520,'-3030']];
const groupFeatures=[g01,g02,g03,g04,g05,g06,g07,g08,g09,g10,g11,g12,g13,g14,g15,g16,g17,g18,g19,g20,g21,g22,g23,g24,g25,g26,g27,g28,g29,g30,g31,g32,g33,g34,g35,g36,g37,g38,g39,g40,g41,g42,g43,g44,g45,g46,g47,g48,g49,g50];
// pale isolated dashes, by group: group number, then spot (negative = blue) and height percent pairs
const paleA=[[5,120,15,165,40,190,70,230,25,272,55,300,80,335,12,-360,45,410,66,-445,30,462,75,-560,18,578,60,-610,35,660,85,-735,20,-800,50,820,72,880,30,-1010,45,1040,15,1190,60,1290,75,-1320,25,1410,50,1430,85],[8,25,30,85,60,165,20,-265,75,330,45,470,15,520,70,-600,50,680,30,-810,65,860,25,1010,55,1225,35,1285,80,1400,45,-1505,60],[12,70,20,125,50,180,80,-240,35,290,65,-340,15,385,70,425,40,480,85,570,25,-650,60,-730,40,830,75,1040,20,1075,55,1220,30,1270,70,1300,45,1420,60],[15,70,25,175,60,-190,40,250,75,285,35,330,15,385,55,-430,70,470,45,500,20,560,65,575,30,-660,80,730,50,-830,25,860,60,1010,40,-1100,70,1160,50,-1245,30,1285,65,1430,20],[20,70,35,125,70,180,20,-230,50,-260,80,395,25,425,65,485,40,-505,75,560,30,-650,60,-830,45,-860,70,1010,30,1060,65,-1100,25,-1200,55,1275,40,1300,75],[22,75,60,130,30,185,75,225,20,320,45,-395,70,430,30,-470,55,-490,80,580,65,-650,20,735,50,-830,35,860,70,1010,45,1070,25,1180,60,1290,80,1430,50],[24,75,25,130,65,180,45,-220,15,270,80,-300,40,340,70,385,20,-445,55,-480,85,575,30,650,65,-730,50,830,20,-1000,75,1075,35,1190,60,1280,25,1430,70],[25,45,30,85,70,-130,20,180,50,-250,35,265,80,340,60,-405,20,430,70,470,40,560,25,-590,65,680,85,-730,45,820,30,-860,70,-950,20,1020,55,1100,80,1290,35,1425,65],[26,75,30,-130,65,185,50,-240,20,300,75,335,40,-395,60,440,25,475,80,-500,45,560,30,-660,70,-710,40,820,20,-860,65,1010,50,1075,35,1200,75,1285,25,1425,60]];
const paleB=[[29,200,20,-265,55,300,35,345,75,-380,50,470,25,-505,65,570,40,-610,80,650,30,860,45,1010,70,1180,55,1270,30,1400,65,1420,40],[31,75,70,-90,20,-270,60,300,35,345,80,-390,25,-445,50,-480,70,570,30,-750,55,840,40,1030,65,1180,25,1290,75,1475,50],[32,20,45,70,75,115,25,150,55,210,80,-240,30,295,65,350,40,-380,70,430,20,455,55,-480,80,565,30,-640,60,-760,45,830,25,-1000,70,1060,40,1170,75,1280,30,1320,60,1480,45],[33,160,60,205,30,-245,75,300,45,345,20,-375,65,435,50,495,30,-575,70,-650,40,770,25,1170,60,-1220,35,1290,75,-1410,50,1500,20],[38,60,70,150,30,-340,55,400,25,-445,75,-500,40,570,60,650,20,-760,70,820,45,1010,30,1040,65,1170,50,1250,25,1300,75],[39,15,50,-60,25,150,75,240,35,-285,60,320,20,-380,70,560,30,-750,50,830,75,-1000,25,1050,60,1190,40,1265,70,1420,30,1500,55],[41,30,30,60,70,180,50,-350,25,-370,65,480,40,-590,75,-650,30,-870,50,1010,70,1160,25,1290,60,1400,35,1500,75],[43,12,30,-60,65,90,20,240,50,-300,75,335,40,385,25,-430,60,465,80,520,30,-590,55,680,75,-740,35,850,60,1000,25,1060,70,1160,45,1290,80],[44,-105,40,85,70,130,25,-175,55,-290,20,-345,65,370,40,470,75,-505,30,570,60,650,20,-830,50,-1000,70,1200,25,1330,60,1400,40,1470,75],[45,85,25,150,60,-180,35,240,75,-290,50,-340,20,360,65,580,30,650,70,-830,45,1040,60,1200,25,1330,75,1410,40],[46,-215,40,-260,70,-330,25,-380,60,-480,45,-515,75,590,30,-660,55,-720,20,-860,65,1030,35,-1060,70,-1170,25,1200,55,1360,80,1420,30],[47,130,30,-300,65,-350,25,-450,70,470,40,-490,20,580,60,650,30,-760,50,830,75,1030,45,-1175,25,1330,60,1400,35,1470,75],[48,75,60,130,25,-220,75,-290,40,-340,65,470,20,-510,55,580,30,660,75,-1000,45,-1180,25,1200,60,1290,75,1420,40,1500,65],[50,-80,70,130,40,190,20,-310,60,430,30,-470,75,580,45,660,25,-850,65,-1040,50,1085,30,1320,70,1420,40,-1500,55]];
const paleDashes=[...paleA,...paleB];
// fixed end offsets (spots) that give the dashes the ragged look of single cell rows
const rowRagged=[0,2,-1,3,-2,1,4,-1,0,-3,2,1,-2,3,0,-1,2,-2];
const valueStep=0.027;
const rdBu=['#053061','#2166ac','#4393c3','#92c5de','#d1e5f0','#f7f7f7','#fddbc7','#f4a582','#d6604d','#b2182b','#67001f'];
const blues=['#f7fbff','#deebf7','#c6dbef','#9ecae1','#6baed6','#4292c6','#2171b5','#08519c','#08306b'];
const samples=['SMC01-T','SMC02-T','SMC04-T','SMC07-T','SMC08-T','SMC09-T','SMC11-T','SMC14-T','SMC15-T','SMC16-T','SMC18-T','SMC20-T','SMC21-T','SMC22-T','SMC23-T','SMC25-T'];
const band01=[.6,0,.8,0,0,0,0,1.3,0,0,0,1.1,0,0,.8,.6];
const band02=[1,0,.6,0,0,0,0,.7,0,0,0,1.3,0,0,0,0];
const band03=[.6,0,0,0,0,.6,0,0,0,0,.7,0,0,0,0,0];
const band04=[0,1,.9,1,0,0,0,0,0,.6,0,.8,1.1,0,.4,0];
const band05=[0,1,.9,1.2,0,0,0,.3,.4,0,0,.5,.9,0,.4,.5];
const band06=[0,.6,0,1.1,.5,0,0,0,0,.8,.5,1.1,0,0,0,.6];
const band07=[0,0,1,0,0,0,1.1,0,.9,0,.8,0,1.2,0,.7,0];
const band08=[0,0,1.1,0,.4,.4,1.5,0,1.2,1.3,1,0,.8,0,.7,0];
const band09=[0,0,0,0,0,0,.7,.6,.9,0,.7,.04,0,0,0,0];
const band10=[0,0,.9,0,1.1,0,0,0,0,0,.8,1.3,0,0,0,0];
const band11=[0,0,0,0,0,0,0,.6,0,1,.9,.8,0,0,0,0];
const band12=[0,0,1.7,0,.9,0,.7,0,0,0,0,0,.5,0,0,0];
const band13=[0,.9,0,0,0,0,1.2,0,0,0,0,0,1.1,0,0,.7];
const band14=[.4,1.3,.5,1.6,1.6,1,1,.7,0,0,1.1,.6,1.1,.4,.4,.8];
const bandMatrix=[band01,band02,band03,band04,band05,band06,band07,band08,band09,band10,band11,band12,band13,band14];
const barFreq=[.38,.25,.19,.44,.56,.44,.38,.56,.31,.25,.25,.25,.25,.88];
const barGenes=['','','','','EGFR','','COPS5, LSM1, DDHD2','EIF3E, TPD52, GSDMD, INTS8','','CDKN2A','','','',''];
const freqTicks=[0,.2,.4,.6,.8,1];

const FONT='"DejaVu Sans"', FS=20.83, FM=22.9, FL=25, AXW=1.67, X_MAX=1523;
const rowEdges=[0]; groupRows.forEach(r=>rowEdges.push(rowEdges[rowEdges.length-1]+r));
const Y_MAX=rowEdges[rowEdges.length-1];
const colorOf=v=>echarts.color.lerp(Math.max(0,Math.min(1,(v+0.3)/0.6)),rdBu);
const ROW=6, DASH=4;
const heatData=[];
groupFeatures.forEach((fs,g)=>{fs.forEach(f=>{
  let s=f[2],sign=1; if(s[0]==='-'){sign=-1;s=s.slice(1);}
  const n=Math.max(s.length,Math.floor(groupRows[g]/ROW)), h=groupRows[g]/n, w=f[1]-f[0];
  const t=w<=6?h:w>=25?Math.min(h,h*0.85):Math.min(h,DASH);
  for(let i=0;i<n;i++){const d=+s[i%s.length]; if(!d) continue;
    const y=rowEdges[g]+i*h+(h-t)/2, k=i+f[0];
    const a=f[0]+(w>=5?rowRagged[k%rowRagged.length]:0), b=f[1]+(w>=5?rowRagged[(k+5)%rowRagged.length]:0);
    heatData.push([Math.max(0,a),Math.min(X_MAX,b),y,y+t,sign*d*valueStep]);}
});});
paleDashes.forEach(p=>{const g=p[0]-1;for(let j=1;j<p.length;j+=2){const sp=Math.abs(p[j]),y=rowEdges[g]+groupRows[g]*p[j+1]/100;
  heatData.push([sp,sp+9,y,y+DASH,(p[j]<0?-1:1)*3*valueStep]);}});
const rectItem=(api,x0,x1,y0,y1)=>{const a=api.coord([x0,y0]),b=api.coord([x1,y1]);return {x:a[0],y:Math.min(a[1],b[1]),width:b[0]-a[0],height:Math.abs(b[1]-a[1])};};
const custom=(xi,yi,data,z,fn)=>({type:'custom',xAxisIndex:xi,yAxisIndex:yi,data,z,silent:true,animation:false,encode:{x:0,y:1},renderItem:fn,clip:false});
const frame=(xi,yi,x0,x1,y0,y1)=>custom(xi,yi,[[x0,y0]],20,(p,api)=>({type:'rect',shape:rectItem(api,x0,x1,y0,y1),style:{fill:'none',stroke:'#000',lineWidth:AXW}}));
const gradientSeries=(xi,yi,y0,y1,stops)=>custom(xi,yi,[[0,y0]],3,(p,api)=>({type:'rect',shape:rectItem(api,0,1,y0,y1),style:{fill:new echarts.graphic.LinearGradient(0,1,0,0,stops.map((c,i)=>({offset:i/(stops.length-1),color:c})))}}));
const txt=s=>({color:'#000',fontFamily:FONT,fontSize:s});
const hiddenVal=(grid,min,max,inv)=>({type:'value',gridIndex:grid,min,max,inverse:!!inv,show:false});

const option={
 animation:false,backgroundColor:'#fff',textStyle:{fontFamily:FONT},
 title:{text:'log2(CNR)',left:1129.5,top:22,textAlign:'center',textStyle:{...txt(FL),fontWeight:'normal'}},
 visualMap:{show:false,type:'continuous',min:0,max:1,seriesIndex:9,dimension:2,inRange:{color:blues}},
 grid:[
  {left:291.5,top:170,width:1685.5,height:1130,show:true,backgroundColor:'#f7f7f7',borderWidth:0},
  {left:264,top:170,width:24,height:1130},
  {left:291.5,top:152,width:1685.5,height:9},
  {left:1984,top:889,width:24,height:410},
  {left:254.4,top:1411,width:924.6,height:700},
  {left:181,top:1971,width:36.4,height:139.5},
  {left:1220,top:1411,width:173.6,height:700,show:true,borderColor:'#000',borderWidth:AXW}
 ],
 xAxis:[
  {type:'value',gridIndex:0,min:0,max:X_MAX,splitLine:{show:false},nameLocation:'middle',name:'Genomic spot',nameGap:46,nameTextStyle:txt(FL),
   axisLine:{lineStyle:{color:'#000',width:AXW}},axisTick:{length:7,lineStyle:{color:'#000',width:AXW},customValues:xTicks},axisLabel:{...txt(FM),margin:11,customValues:xTicks,formatter:v=>String(v)}},
  hiddenVal(1,0,1),hiddenVal(2,0,X_MAX),hiddenVal(3,0,1),
  {type:'category',gridIndex:4,data:samples,axisLine:{show:false},axisTick:{length:7,alignWithLabel:true,lineStyle:{color:'#000',width:AXW}},axisLabel:{...txt(FM),rotate:90,margin:11,interval:0},splitLine:{show:false}},
  hiddenVal(5,0,1),
  {type:'value',gridIndex:6,min:0,max:1.3,z:5,nameLocation:'middle',name:'Frequency',nameGap:59,nameTextStyle:txt(FL),nameMoveOverlap:false,
   axisLine:{lineStyle:{color:'#000',width:AXW}},axisTick:{length:7,lineStyle:{color:'#000',width:AXW},customValues:freqTicks},
   axisLabel:{...txt(FS),rotate:90,margin:13,customValues:freqTicks,formatter:v=>v.toFixed(1)},splitLine:{show:true,lineStyle:{color:'#b0b0b0',width:AXW}}}
 ],
 yAxis:[
  hiddenVal(0,0,Y_MAX,true),
  {type:'value',gridIndex:1,min:0,max:Y_MAX,inverse:true,name:'cell_group',nameLocation:'middle',nameGap:215,nameTextStyle:txt(FL),axisLine:{show:false},axisTick:{show:false},axisLabel:{show:false},splitLine:{show:false}},
  hiddenVal(2,0,1,true),
  {type:'value',gridIndex:3,min:-0.3,max:0.3,interval:0.1,position:'right',axisLine:{show:false},axisTick:{length:7,lineStyle:{color:'#000',width:AXW}},
   axisLabel:{...txt(FS),margin:11,padding:[5,0,0,0],formatter:v=>v.toFixed(1).replace('-','\u2212')},splitLine:{show:false}},
  {type:'category',gridIndex:4,inverse:true,data:bandNames,name:'Cytogenetic band',nameLocation:'middle',nameGap:11,nameTextStyle:txt(FM),axisLine:{show:false},axisTick:{show:false},axisLabel:{show:false},splitLine:{show:false}},
  {type:'value',gridIndex:5,min:0,max:1,interval:0.5,axisLine:{show:false},axisTick:{length:7,lineStyle:{color:'#000',width:AXW}},axisLabel:{...txt(FS),margin:11,formatter:v=>v.toFixed(1)},splitLine:{show:false}},
  {type:'category',gridIndex:6,inverse:true,position:'right',z:5,data:bandNames,axisLine:{lineStyle:{color:'#000',width:AXW}},
   axisTick:{length:7,alignWithLabel:true,lineStyle:{color:'#000',width:AXW}},splitLine:{show:true,alignWithLabel:true,lineStyle:{color:'#b0b0b0',width:AXW}},
   axisLabel:{...txt(FM),margin:15,interval:0,padding:[3,0,0,0],rich:{b:{...txt(21.8),fontWeight:'bold'}},
    formatter:v=>{const g=barGenes[bandNames.indexOf(v)];return g?v+' ({b|'+g+'})':v;}}}
 ],
 series:[
  custom(0,0,heatData,2,(p,api)=>({type:'rect',shape:rectItem(api,api.value(0),api.value(1),api.value(2),api.value(3)),style:{fill:colorOf(api.value(4))}})),
  custom(0,0,bandStart.map((s,i)=>[s,bandEnd[i]]),3,(p,api)=>({type:'rect',shape:rectItem(api,api.value(0),api.value(1),0,Y_MAX),style:{fill:'#ffd700',opacity:.35}})),
  custom(0,0,rowEdges.slice(1,-1).map(r=>[0,r]),4,(p,api)=>{const a=api.coord([0,api.value(1)]),b=api.coord([X_MAX,api.value(1)]);return {type:'line',shape:{x1:a[0],y1:a[1],x2:b[0],y2:b[1]},style:{stroke:'#000',lineWidth:2.4}};}),
  custom(0,0,bandStart.map((s,i)=>[s+14,0,i]),6,(p,api)=>{const a=api.coord([api.value(0),0]);return {type:'text',x:a[0],y:182,rotation:-Math.PI/2,style:{text:bandNames[api.value(2)],x:0,y:0,align:'left',verticalAlign:'middle',fill:'#000',font:FM+'px '+FONT}};}),
  frame(0,0,0,X_MAX,0,Y_MAX),
  custom(1,1,groupColors.map((c,i)=>[0,rowEdges[i],i]),2,(p,api)=>{const i=api.value(2);return {type:'rect',shape:rectItem(api,0,1,rowEdges[i],rowEdges[i+1]),style:{fill:groupColors[i]}};}),
  custom(1,1,groupNames.map((n,i)=>[0,(rowEdges[i]+rowEdges[i+1])/2,i]),5,(p,api)=>{const a=api.coord([0,api.value(1)]);return {type:'text',x:a[0]-15,y:a[1]+3,style:{text:groupNames[api.value(2)],align:'right',verticalAlign:'middle',fill:'#000',font:FM+'px '+FONT}};}),
  custom(2,2,chromNames.map((n,i)=>[chromStart[i],chromEnd[i],i]),5,(p,api)=>{const a=api.coord([api.value(0),1]),b=api.coord([api.value(1),0]);return {type:'polyline',shape:{points:[[a[0],a[1]],[a[0],b[1]],[b[0],b[1]],[b[0],a[1]]]},style:{fill:'none',stroke:'#000',lineWidth:2.8}};}),
  custom(2,2,chromNames.map((n,i)=>[(chromStart[i]+chromEnd[i])/2,0,i]),5,(p,api)=>{const a=api.coord([api.value(0),0]);return {type:'text',x:a[0]-2,y:143,rotation:Math.PI/2,style:{text:chromNames[api.value(2)],x:0,y:0,align:'left',verticalAlign:'middle',fill:'#000',font:FS+'px '+FONT}};}),
  {type:'heatmap',xAxisIndex:4,yAxisIndex:4,z:2,animation:false,itemStyle:{borderColor:'#fff',borderWidth:3},
   label:{show:true,fontFamily:FONT,fontSize:15.6,formatter:p=>p.value[2].toFixed(1)},
   data:bandMatrix.flatMap((row,y)=>row.map((v,x)=>({value:[x,y,v],label:{color:v>=0.55?'#fff':'#262626'}})))},
  gradientSeries(3,3,-0.3,0.3,rdBu),frame(3,3,0,1,-0.3,0.3),
  gradientSeries(5,5,0,1,blues),
  {type:'bar',xAxisIndex:6,yAxisIndex:6,z:2,animation:false,data:barFreq,barWidth:25,itemStyle:{color:'#1f77b4'},label:{show:true,position:'right',distance:6,color:'#000',fontFamily:FONT,fontSize:18.75,formatter:p=>p.value.toFixed(2)}}
 ]
};
echarts.init(document.getElementById('c'),null,{width:2098,height:2249}).setOption(option);
</script></body></html>
